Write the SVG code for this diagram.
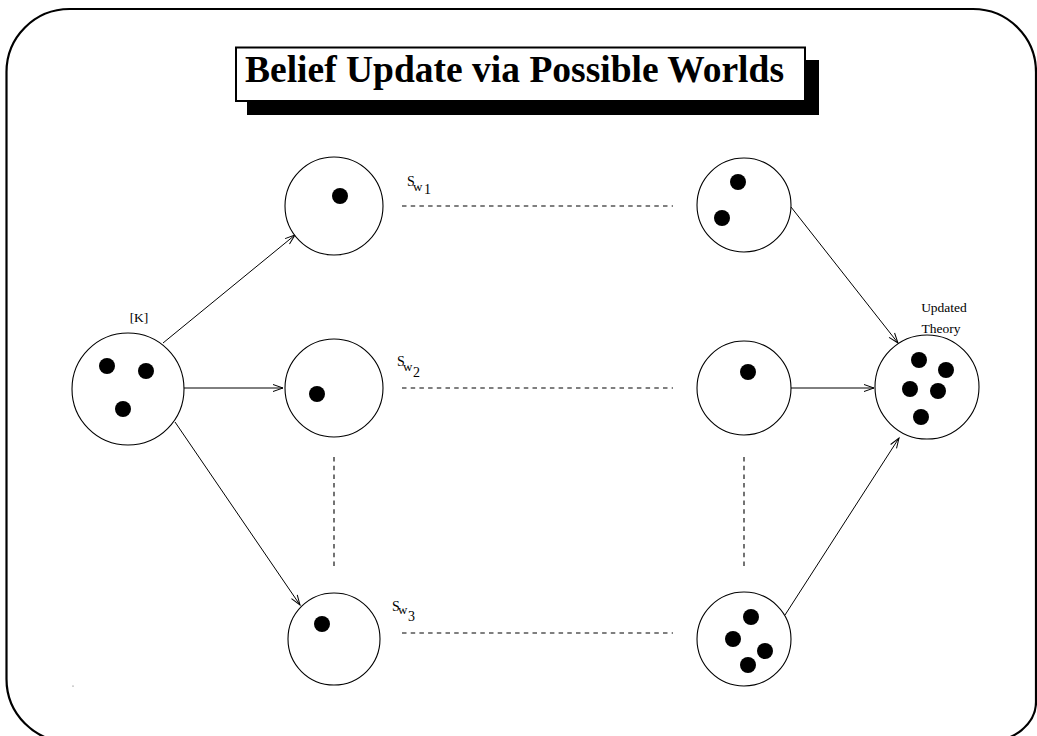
<svg xmlns="http://www.w3.org/2000/svg" width="1037" height="736" viewBox="0 0 1037 736">
<style>
.ring{fill:#fff;stroke:#000;stroke-width:1.1}
.dot{fill:#000}
.lbl{font-family:"Liberation Serif","Times New Roman",serif;fill:#000}
.edge{stroke:#000;stroke-width:1;fill:none;marker-end:url(#arr)}
.dash{stroke:#000;stroke-width:1.1;fill:none;stroke-dasharray:4.5 4.2}
</style>
<defs>
<marker id="arr" markerUnits="userSpaceOnUse" markerWidth="12" markerHeight="10" refX="10" refY="3.5" orient="auto" overflow="visible">
<path d="M0,0 L10,3.5 L0,7" fill="none" stroke="#000" stroke-width="1"/>
</marker>
</defs>
<rect x="0" y="0" width="1037" height="736" fill="#fff"/>
<path id="frame" d="M69.5,9 H973 A63,63 0 0 1 1036,72 V702 A50,40 0 0 1 986,742 H69.5 A63,63 0 0 1 6.5,679 V72 A63,63 0 0 1 69.5,9 Z" fill="none" stroke="#000" stroke-width="2.2"/>
<g id="title">
<rect x="247" y="60" width="572" height="55" fill="#000"/>
<rect x="236" y="47.5" width="569" height="53.5" fill="#fff" stroke="#000" stroke-width="2"/>
<text class="lbl" x="245" y="82" font-size="37" font-weight="bold" textLength="539" lengthAdjust="spacingAndGlyphs">Belief Update via Possible Worlds</text>
</g>
<g id="connectors">
<line class="edge" x1="163" y1="343" x2="295" y2="235"/>
<line class="edge" x1="184" y1="388" x2="283" y2="388"/>
<line class="edge" x1="175" y1="422" x2="300" y2="605"/>
<line class="edge" x1="791" y1="207" x2="898" y2="343"/>
<line class="edge" x1="791" y1="388" x2="874" y2="388"/>
<line class="edge" x1="785" y1="615" x2="899" y2="438"/>
<line class="dash" x1="402" y1="206" x2="673" y2="206"/>
<line class="dash" x1="402" y1="388" x2="673" y2="388"/>
<line class="dash" x1="402" y1="633" x2="673" y2="633"/>
<line class="dash" x1="334" y1="457" x2="334" y2="570"/>
<line class="dash" x1="744" y1="457" x2="744" y2="570"/>
</g>
<g id="K">
<circle class="ring" cx="128" cy="389" r="56"/>
<circle class="dot" cx="107" cy="366" r="8"/>
<circle class="dot" cx="146" cy="371" r="8"/>
<circle class="dot" cx="123" cy="409" r="8"/>
<text class="lbl" x="139" y="322" font-size="13.5" text-anchor="middle">[K]</text>
</g>
<g id="S1">
<circle class="ring" cx="334" cy="206" r="49"/>
<circle class="dot" cx="340" cy="196" r="8"/>
</g>
<g id="S2">
<circle class="ring" cx="334" cy="388" r="49"/>
<circle class="dot" cx="317" cy="394" r="8"/>
</g>
<g id="S3">
<circle class="ring" cx="334" cy="639" r="46"/>
<circle class="dot" cx="322" cy="624" r="8"/>
</g>
<g id="R1">
<circle class="ring" cx="744" cy="205" r="47"/>
<circle class="dot" cx="738" cy="182" r="8"/>
<circle class="dot" cx="722" cy="218" r="8"/>
</g>
<g id="R2">
<circle class="ring" cx="744" cy="388" r="47"/>
<circle class="dot" cx="748" cy="372" r="8"/>
</g>
<g id="R3">
<circle class="ring" cx="744" cy="639" r="47"/>
<circle class="dot" cx="751" cy="617" r="8"/>
<circle class="dot" cx="733" cy="639" r="8"/>
<circle class="dot" cx="765" cy="651" r="8"/>
<circle class="dot" cx="748" cy="665" r="8"/>
</g>
<g id="UT">
<circle class="ring" cx="927" cy="387" r="52"/>
<circle class="dot" cx="919" cy="360" r="8"/>
<circle class="dot" cx="946" cy="370" r="8"/>
<circle class="dot" cx="910" cy="389" r="8"/>
<circle class="dot" cx="938" cy="391" r="8"/>
<circle class="dot" cx="921" cy="417" r="8"/>
<text class="lbl" x="944" y="312" font-size="13.5" text-anchor="middle">Updated</text>
<text class="lbl" x="941" y="333" font-size="13.5" text-anchor="middle">Theory</text>
</g>
<g id="labels">
<text class="lbl" font-size="14"><tspan x="407" y="186">S</tspan><tspan x="413" y="191" font-size="13">w</tspan><tspan x="424" y="194">1</tspan></text>
<text class="lbl" font-size="14"><tspan x="397" y="366">S</tspan><tspan x="403" y="371" font-size="13">w</tspan><tspan x="413" y="377">2</tspan></text>
<text class="lbl" font-size="14"><tspan x="392" y="611">S</tspan><tspan x="398" y="614" font-size="13">w</tspan><tspan x="408" y="621">3</tspan></text>
</g>
<circle cx="73" cy="686" r="0.6" fill="#555"/>
</svg>
